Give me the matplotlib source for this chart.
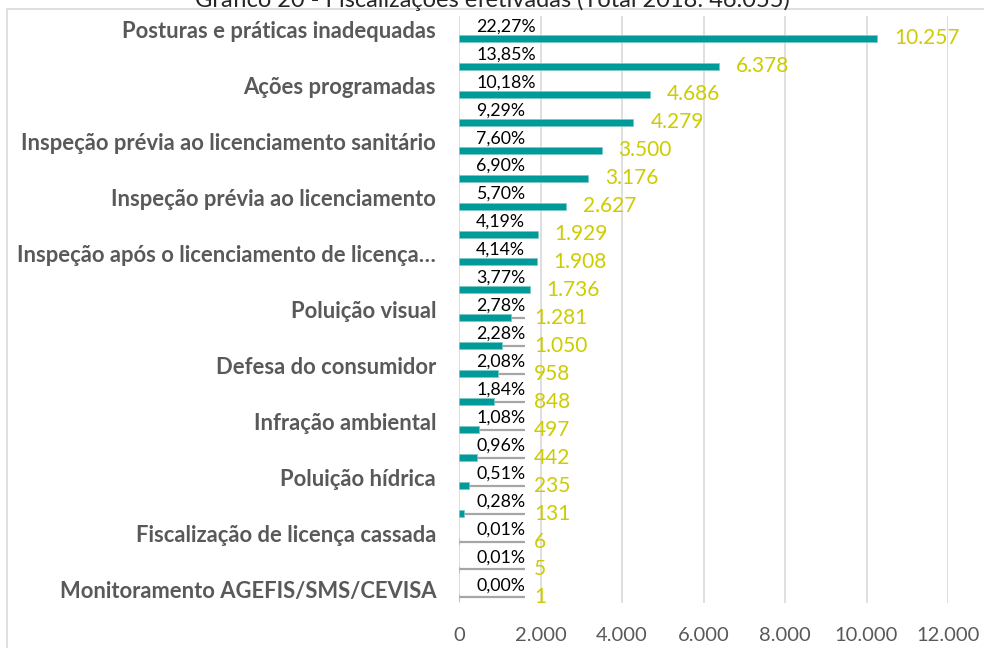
import numpy as np
import matplotlib.pyplot as plt
from matplotlib.patches import Rectangle

plt.rcParams['font.family'] = ['Lato', 'DejaVu Sans']

# --- data ---
title = 'Gráfico 20 - Fiscalizações efetivadas (Total 2018: 46.055)'
labels = ['Posturas e práticas inadequadas',
          'Ações programadas',
          'Inspeção prévia ao licenciamento sanitário',
          'Inspeção prévia ao licenciamento',
          'Inspeção após o licenciamento de licença…',
          'Poluição visual',
          'Defesa do consumidor',
          'Infração ambiental',
          'Poluição hídrica',
          'Fiscalização de licença cassada',
          'Monitoramento AGEFIS/SMS/CEVISA']
values = [10257, 6378, 4686, 4279, 3500, 3176, 2627, 1929, 1908, 1736,
          1281, 1050, 958, 848, 497, 442, 235, 131, 6, 5, 1]
percents = ['22,27%', '13,85%', '10,18%', '9,29%', '7,60%', '6,90%', '5,70%',
            '4,19%', '4,14%', '3,77%', '2,78%', '2,28%', '2,08%', '1,84%',
            '1,08%', '0,96%', '0,51%', '0,28%', '0,01%', '0,01%', '0,00%']
xticks = [0, 2000, 4000, 6000, 8000, 10000, 12000]
xtick_labels = ['0', '2.000', '4.000', '6.000', '8.000', '10.000', '12.000']

bar_color = '#009B98'
value_color = '#CCCC00'
grid_color = '#D9D9D9'
text_gray = '#595959'
line_end = 1620  # grey underline under the percentage labels

fig = plt.figure(figsize=(9.84, 6.48), dpi=100)
ax = fig.add_axes([459 / 984, 1 - 603 / 648, (948 - 459) / 984, (603 - 16) / 648])

pos = np.arange(len(values))
bar_y = pos + 0.3

ax.hlines(bar_y, 0, line_end, color='#A6A6A6', lw=1.6, zorder=2)
ax.barh(bar_y, values, height=0.25, color=bar_color, edgecolor='#7CC8C6',
        linewidth=0.5, zorder=3)

for i, v in enumerate(values):
    ax.text(420, pos[i] - 0.13, percents[i], ha='left', va='center',
            fontsize=12.8, color='black', zorder=4)
    start = max(v, line_end)
    off = 17 if v > line_end else 9
    ax.annotate(f'{v:,}'.replace(',', '.'), xy=(start, bar_y[i]),
                xytext=(off, 0), textcoords='offset pixels',
                ha='left', va='center', fontsize=15, color=value_color,
                annotation_clip=False, zorder=4)

ax.set_xlim(0, 12000)
ax.set_ylim(len(values) - 0.5, -0.5)
ax.set_xticks(xticks)
ax.set_xticklabels(xtick_labels, fontsize=14.5, color=text_gray)
ax.set_yticks(pos[::2])
ax.set_yticklabels(labels, fontsize=15.8, fontweight='bold', color=text_gray)
ax.tick_params(axis='x', length=0, pad=17)
ax.tick_params(axis='y', length=0, pad=16.5)
ax.xaxis.grid(True, color=grid_color, lw=1.2)
ax.set_axisbelow(True)
for s in ax.spines.values():
    s.set_visible(False)

# chart frame (runs off the right and bottom edges) and clipped title
fig.add_artist(Rectangle((7 / 984, -0.1), 1.2, 1.1 - 9 / 648, fill=False,
                         edgecolor=grid_color, lw=1.2,
                         transform=fig.transFigure))
fig.text(0.5, 1 - 7 / 648, title, ha='center', va='baseline', fontsize=17,
         color='#262626')

fig.savefig('out.png', dpi=100)
